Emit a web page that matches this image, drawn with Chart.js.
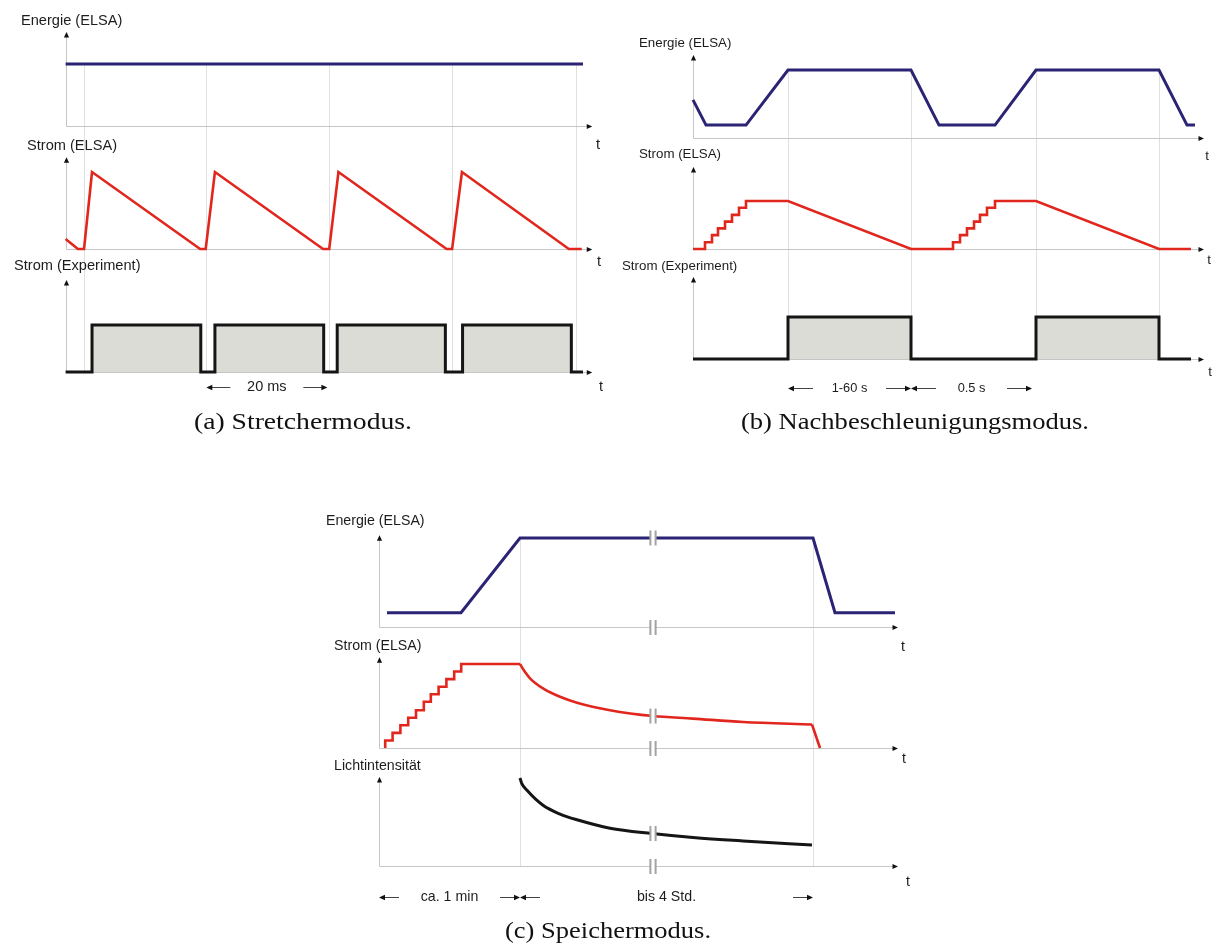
<!DOCTYPE html>
<html>
<head>
<meta charset="utf-8">
<title>ELSA Betriebsmodi</title>
<script src="https://cdn.jsdelivr.net/npm/chart.js@4.4.1/dist/chart.umd.min.js"></script>
<style>
html,body{margin:0;padding:0;background:#ffffff;}
#wrap{position:relative;width:1220px;height:945px;}
canvas{display:block;}
</style>
</head>
<body>
<div id="wrap"><canvas id="chart" width="1220" height="945"></canvas></div>
<script>
// ---------- (a) Stretchermodus (time in ms) ----------
const stretchEnergyT = [0, 84.2];
const stretchEnergy  = [1, 1];
const stretchStromT  = [0, 2.0, 3.0, 4.3, 21.9, 22.8, 24.3, 41.9, 42.9, 44.4, 62.0, 62.9, 64.5, 81.9, 84.0];
const stretchStrom   = [0.13, 0, 0, 1, 0, 0, 1, 0, 0, 1, 0, 0, 1, 0, 0];
const stretchExpT    = [0, 4.3, 4.3, 22.0, 22.0, 24.3, 24.3, 42.0, 42.0, 44.2, 44.2, 61.8, 61.8, 64.6, 64.6, 82.3, 82.3, 84.2];
const stretchExp     = [0, 0, 1, 1, 0, 0, 1, 1, 0, 0, 1, 1, 0, 0, 1, 1, 0, 0];
const stretchMarks   = [3.0, 22.8, 42.9, 62.9, 83.0];
const stretchLabels  = ['Energie (ELSA)', 'Strom (ELSA)', 'Strom (Experiment)'];
const stretchSpans   = [[22.9, 42.6]];
const stretchSpanText = ['20 ms'];

// ---------- (b) Nachbeschleunigungsmodus (arbitrary time units) ----------
const nbEnergyT = [0, 1.3, 5.3, 9.5, 21.8, 24.6, 30.2, 34.3, 46.6, 49.4, 50.2];
const nbEnergy  = [0.56, 0.19, 0.19, 1, 1, 0.19, 0.19, 1, 1, 0.19, 0.19];
const nbStromT  = [0, 1.2, 1.2, 1.9, 1.9, 2.5, 2.5, 3.2, 3.2, 3.9, 3.9, 4.6, 4.6, 5.3, 5.3, 9.5, 21.8,
                   26.0, 26.0, 26.7, 26.7, 27.4, 27.4, 28.1, 28.1, 28.7, 28.7, 29.4, 29.4, 30.2, 30.2, 34.3, 46.6, 49.8];
const nbStrom   = [0, 0, 0.14, 0.14, 0.29, 0.29, 0.43, 0.43, 0.57, 0.57, 0.71, 0.71, 0.86, 0.86, 1, 1, 0,
                   0, 0.14, 0.14, 0.29, 0.29, 0.43, 0.43, 0.57, 0.57, 0.71, 0.71, 0.86, 0.86, 1, 1, 0, 0];
const nbExpT    = [0, 9.5, 9.5, 21.8, 21.8, 34.3, 34.3, 46.6, 46.6, 49.8];
const nbExp     = [0, 0, 1, 1, 0, 0, 1, 1, 0, 0];
const nbMarks   = [9.5, 21.8, 34.3, 46.6];
const nbLabels  = ['Energie (ELSA)', 'Strom (ELSA)', 'Strom (Experiment)'];
const nbSpans   = [[9.5, 21.8], [21.8, 33.9]];
const nbSpanText = ['1-60 s', '0.5 s'];

// ---------- (c) Speichermodus (arbitrary time units) ----------
const spEnergyT = [0.8, 8.2, 14.1, 43.4, 45.6, 51.6];
const spEnergy  = [0.16, 0.16, 1, 1, 0.16, 0.16];
const spStairT  = [0.62, 0.62, 1.36, 1.36, 2.14, 2.14, 2.92, 2.92, 3.7, 3.7, 4.48, 4.48, 5.18, 5.18, 5.96, 5.96, 6.74, 6.74, 7.52, 7.52, 8.22, 8.22, 14.1];
const spStair   = [0, 0.09, 0.09, 0.18, 0.18, 0.27, 0.27, 0.36, 0.36, 0.45, 0.45, 0.55, 0.55, 0.64, 0.64, 0.73, 0.73, 0.82, 0.82, 0.91, 0.91, 1, 1];
const spDecayT  = [14.1, 14.4, 15.1, 16.4, 18.1, 19.8, 23.1, 27.4, 31.4, 36.4, 43.3];
const spDecay   = [1, 0.94, 0.83, 0.71, 0.61, 0.54, 0.45, 0.38, 0.35, 0.31, 0.28];
const spDropT   = [43.3, 44.1];
const spDrop    = [0.28, 0];
const spLichtT  = [14.1, 14.27, 14.8, 16.4, 18.1, 19.8, 23.1, 27.3, 31.4, 36.4, 43.3];
const spLicht   = [1, 0.94, 0.86, 0.69, 0.59, 0.525, 0.43, 0.37, 0.325, 0.285, 0.238];
const spMarks   = [14.1, 43.4];
const spBreakT  = 27.4;
const spLabels  = ['Energie (ELSA)', 'Strom (ELSA)', 'Lichtintensität'];
const spSpans   = [[0, 14.1], [14.1, 43.4]];
const spSpanText = ['ca. 1 min', 'bis 4 Std.'];

const captions = ['(a) Stretchermodus.', '(b) Nachbeschleunigungsmodus.', '(c) Speichermodus.'];

// ---------- layout / style ----------
const W = 1220, H = 945;
const BLUE = '#2b2475', RED = '#e1271d', BLACK = '#151515', FILL = '#dcdcd7';
const AXIS = '#c6c6c6', GUIDE = '#e0e0e0', TEXT = '#1c1c1c';
const SANS = '"Liberation Sans", Arial, sans-serif';
const SERIF = '"Liberation Serif", "Times New Roman", serif';

const PANELS = [
  { x: 'xa', origin: 65.6, ppu: 6.145, xEnd: 85.7, font: 14.6, spanY: 387, spanFont: 14.5, spanLen: 24,
    ids: ['ya1', 'ya2', 'ya3'], base: [126, 249, 372], one: [64, 172, 325], top: [1.516, 1.19, 1.96],
    lx: [21, 27, 14], ly: [21, 146, 266], tx: [598, 599, 601], ty: [145, 262, 387],
    marks: stretchMarks, labels: stretchLabels, spans: stretchSpans, spanText: stretchSpanText,
    caption: captions[0], capX: 303, capY: 423, capW: 218 },
  { x: 'xb', origin: 693, ppu: 10, xEnd: 51.1, font: 13.3, spanY: 388, spanFont: 12.8, spanLen: 25,
    ids: ['yb1', 'yb2', 'yb3'], base: [138, 249, 359], one: [70, 201, 317], top: [1.22, 1.71, 1.95],
    lx: [639, 639, 622], ly: [43, 154, 266], tx: [1207, 1209, 1210], ty: [156, 260, 372],
    marks: nbMarks, labels: nbLabels, spans: nbSpans, spanText: nbSpanText,
    caption: captions[1], capX: 915, capY: 423, capW: 348 },
  { x: 'xc', origin: 379, ppu: 10, xEnd: 51.9, font: 14.2, spanY: 897, spanFont: 14.2, spanLen: 20,
    ids: ['yc1', 'yc2', 'yc3'], base: [627, 748, 866], one: [538, 664, 778], top: [1.03, 1.08, 1.01],
    lx: [326, 334, 334], ly: [521, 646, 766], tx: [903, 904, 908], ty: [647, 759, 882],
    marks: spMarks, labels: spLabels, spans: spSpans, spanText: spSpanText,
    caption: captions[2], capX: 608, capY: 932, capW: 206 }
];

function xRange(origin, ppu) { const min = -origin / ppu; return { min, max: min + W / ppu }; }
function yRange(base, one) { const k = base - one; return { min: -(H - base) / k, max: base / k }; }
function pts(T, V) { return T.map((t, i) => ({ x: t, y: V[i] })); }

const scales = {};
PANELS.forEach(p => {
  scales[p.x] = Object.assign({ type: 'linear', axis: 'x', position: 'bottom', display: false, bounds: 'data',
    ticks: { display: false }, grid: { display: false } }, xRange(p.origin, p.ppu));
  p.ids.forEach((id, i) => {
    scales[id] = Object.assign({ type: 'linear', axis: 'y', position: 'left', display: false, bounds: 'data',
      ticks: { display: false }, grid: { display: false } }, yRange(p.base[i], p.one[i]));
  });
});

const L = { pointRadius: 0, pointHoverRadius: 0, tension: 0, borderJoinStyle: 'miter', borderCapStyle: 'butt', fill: false };
const datasets = [
  Object.assign({}, L, { data: pts(stretchEnergyT, stretchEnergy), xAxisID: 'xa', yAxisID: 'ya1', borderColor: BLUE, borderWidth: 3 }),
  Object.assign({}, L, { data: pts(stretchStromT, stretchStrom), xAxisID: 'xa', yAxisID: 'ya2', borderColor: RED, borderWidth: 2.6 }),
  Object.assign({}, L, { data: pts(stretchExpT, stretchExp), xAxisID: 'xa', yAxisID: 'ya3', borderColor: BLACK, borderWidth: 3, fill: 'origin', backgroundColor: FILL }),
  Object.assign({}, L, { data: pts(nbEnergyT, nbEnergy), xAxisID: 'xb', yAxisID: 'yb1', borderColor: BLUE, borderWidth: 3 }),
  Object.assign({}, L, { data: pts(nbStromT, nbStrom), xAxisID: 'xb', yAxisID: 'yb2', borderColor: RED, borderWidth: 2.6 }),
  Object.assign({}, L, { data: pts(nbExpT, nbExp), xAxisID: 'xb', yAxisID: 'yb3', borderColor: BLACK, borderWidth: 3, fill: 'origin', backgroundColor: FILL }),
  Object.assign({}, L, { data: pts(spEnergyT, spEnergy), xAxisID: 'xc', yAxisID: 'yc1', borderColor: BLUE, borderWidth: 3 }),
  Object.assign({}, L, { data: pts(spStairT, spStair), xAxisID: 'xc', yAxisID: 'yc2', borderColor: RED, borderWidth: 2.6 }),
  Object.assign({}, L, { data: pts(spDecayT, spDecay), xAxisID: 'xc', yAxisID: 'yc2', borderColor: RED, borderWidth: 2.6, cubicInterpolationMode: 'monotone', borderJoinStyle: 'round' }),
  Object.assign({}, L, { data: pts(spDropT, spDrop), xAxisID: 'xc', yAxisID: 'yc2', borderColor: RED, borderWidth: 2.6 }),
  Object.assign({}, L, { data: pts(spLichtT, spLicht), xAxisID: 'xc', yAxisID: 'yc3', borderColor: BLACK, borderWidth: 3, cubicInterpolationMode: 'monotone', borderJoinStyle: 'round' })
];
// datasets whose curve carries a break mark in panel (c): energy, decay, licht
const breakDatasets = [6, 8, 10];

function seg(ctx, x1, y1, x2, y2) { ctx.beginPath(); ctx.moveTo(x1, y1); ctx.lineTo(x2, y2); ctx.stroke(); }
function headH(ctx, x, y, dir, len, hw) {
  ctx.beginPath(); ctx.moveTo(x, y); ctx.lineTo(x - dir * len, y - hw); ctx.lineTo(x - dir * len, y + hw); ctx.closePath(); ctx.fill();
}
function headUp(ctx, x, y) {
  ctx.beginPath(); ctx.moveTo(x, y); ctx.lineTo(x - 2.6, y + 5.5); ctx.lineTo(x + 2.6, y + 5.5); ctx.closePath(); ctx.fill();
}
function breakMark(ctx, x, y) {
  ctx.fillStyle = '#ffffff'; ctx.fillRect(x - 3, y - 7.5, 6, 15);
  ctx.fillStyle = '#a3a3a3'; ctx.fillRect(x - 3.6, y - 7.5, 2, 15); ctx.fillRect(x + 1.6, y - 7.5, 2, 15);
}

const diagramPlugin = {
  id: 'diagram',
  beforeDatasetsDraw(chart) {
    const ctx = chart.ctx;
    ctx.save();
    PANELS.forEach(p => {
      const xs = chart.scales[p.x];
      const gTop = chart.scales[p.ids[0]].getPixelForValue(1);
      const gBot = chart.scales[p.ids[2]].getPixelForValue(0);
      ctx.strokeStyle = GUIDE; ctx.lineWidth = 1;
      p.marks.forEach(m => { const x = Math.round(xs.getPixelForValue(m)) + 0.5; seg(ctx, x, gTop, x, gBot); });
      ctx.strokeStyle = AXIS; ctx.lineWidth = 1;
      p.ids.forEach((id, i) => {
        const ys = chart.scales[id];
        const x0 = Math.round(xs.getPixelForValue(0)) + 0.5, yb = Math.round(ys.getPixelForValue(0)) + 0.5;
        seg(ctx, x0, yb, xs.getPixelForValue(p.xEnd) - 4, yb);
        seg(ctx, x0, yb, x0, ys.getPixelForValue(p.top[i]) + 4);
      });
    });
    ctx.restore();
  },
  afterDatasetsDraw(chart) {
    const ctx = chart.ctx;
    ctx.save();
    PANELS.forEach(p => {
      const xs = chart.scales[p.x];
      ctx.fillStyle = '#111111';
      p.ids.forEach((id, i) => {
        const ys = chart.scales[id];
        const x0 = Math.round(xs.getPixelForValue(0)) + 0.5, yb = Math.round(ys.getPixelForValue(0)) + 0.5;
        headH(ctx, xs.getPixelForValue(p.xEnd), yb, 1, 5.5, 2.6);
        headUp(ctx, x0, ys.getPixelForValue(p.top[i]));
      });
      ctx.fillStyle = TEXT; ctx.textBaseline = 'middle';
      ctx.font = p.font + 'px ' + SANS; ctx.textAlign = 'left';
      p.labels.forEach((t, i) => ctx.fillText(t, p.lx[i], p.ly[i]));
      ctx.textAlign = 'center';
      p.tx.forEach((x, i) => ctx.fillText('t', x, p.ty[i]));
      ctx.font = p.spanFont + 'px ' + SANS;
      ctx.strokeStyle = '#444444'; ctx.lineWidth = 1;
      p.spans.forEach((s, i) => {
        const x1 = xs.getPixelForValue(s[0]), x2 = xs.getPixelForValue(s[1]), y = p.spanY + 0.5;
        seg(ctx, x1 + 4, y, x1 + p.spanLen, y);
        seg(ctx, x2 - p.spanLen, y, x2 - 4, y);
        ctx.fillStyle = '#111111';
        headH(ctx, x1, y, -1, 6, 2.8);
        headH(ctx, x2, y, 1, 6, 2.8);
        ctx.fillStyle = TEXT;
        ctx.fillText(p.spanText[i], (x1 + x2) / 2, p.spanY);
      });
      ctx.font = '23px ' + SERIF;
      const w = ctx.measureText(p.caption).width;
      ctx.save();
      ctx.translate(p.capX, p.capY);
      ctx.scale(p.capW / w, 1);
      ctx.fillStyle = '#111111';
      ctx.fillText(p.caption, 0, 0);
      ctx.restore();
    });
    const pc = PANELS[2];
    const xs = chart.scales[pc.x];
    const bx = xs.getPixelForValue(spBreakT);
    breakDatasets.forEach(di => {
      const el = chart.getDatasetMeta(di).dataset;
      const pt = el && el.interpolate ? el.interpolate({ x: bx }, 'x') : null;
      if (pt) breakMark(ctx, bx, pt.y);
    });
    pc.ids.forEach(id => breakMark(ctx, bx, Math.round(chart.scales[id].getPixelForValue(0)) + 0.5));
    ctx.restore();
  }
};

new Chart(document.getElementById('chart'), {
  type: 'line',
  data: { datasets },
  options: {
    responsive: false,
    animation: false,
    devicePixelRatio: 1,
    events: [],
    layout: { padding: 0 },
    plugins: { legend: { display: false }, tooltip: { enabled: false }, title: { display: false } },
    scales
  },
  plugins: [diagramPlugin]
});
</script>
</body>
</html>
